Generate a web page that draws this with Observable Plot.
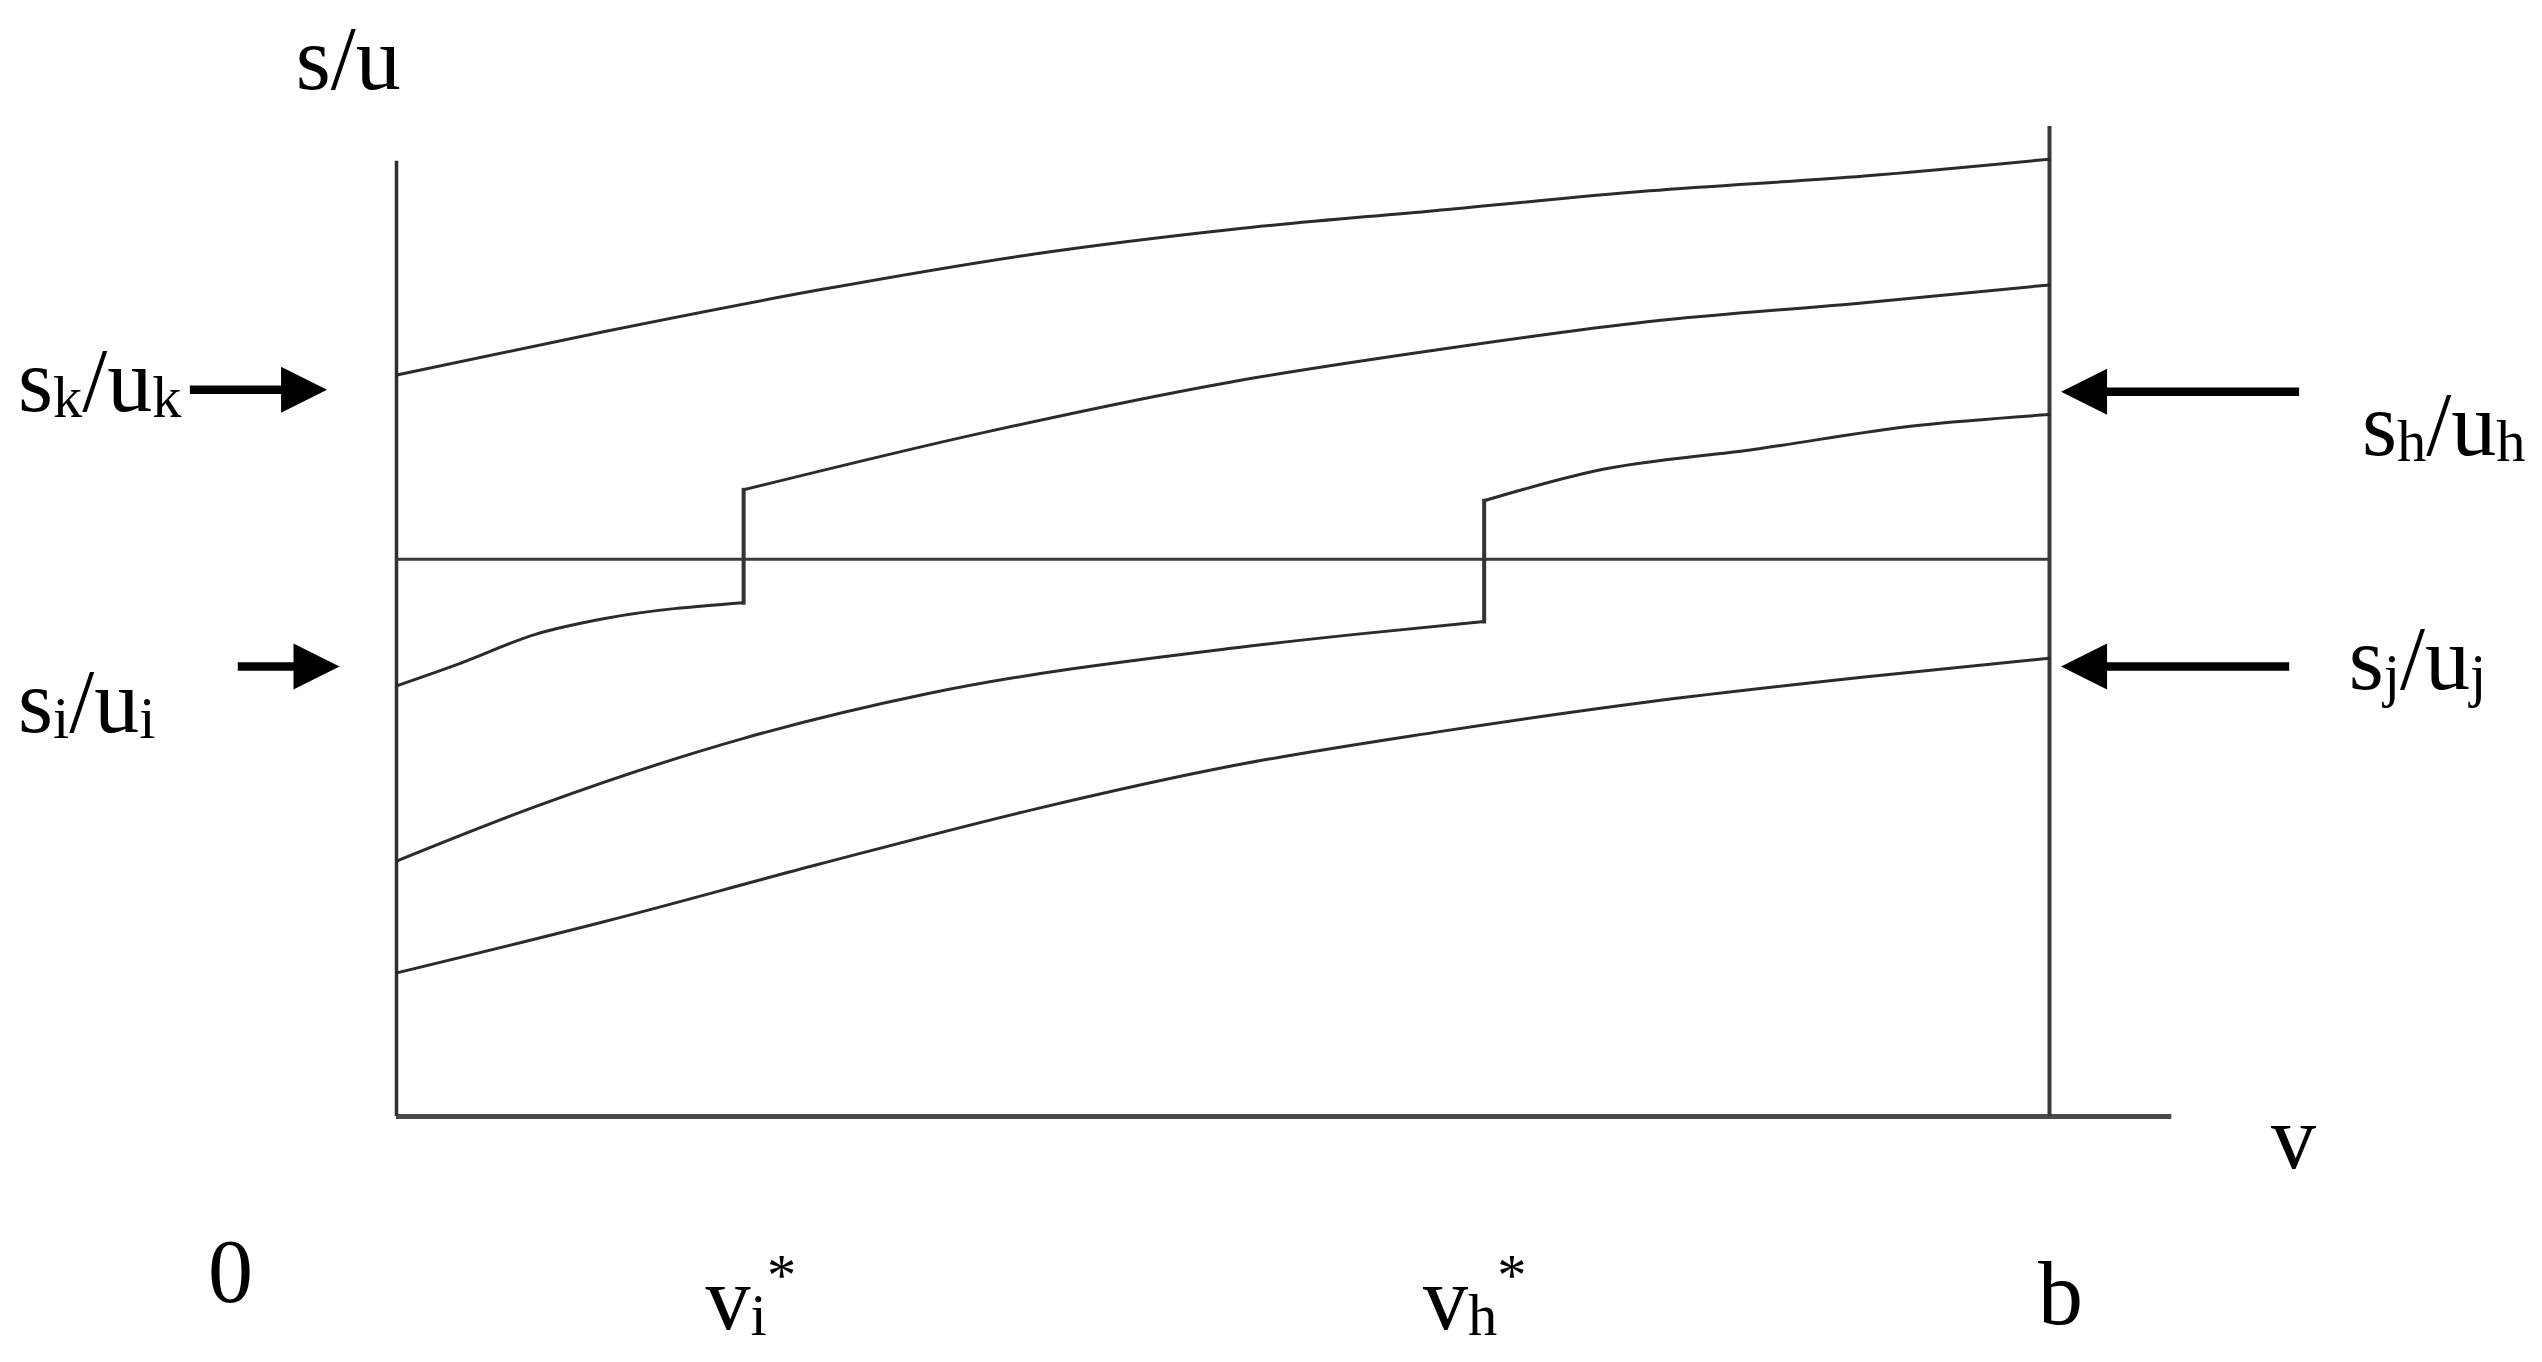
<!DOCTYPE html>
<html>
<head>
<meta charset="utf-8">
<script src="https://cdn.jsdelivr.net/npm/d3@7"></script>
<script src="https://cdn.jsdelivr.net/npm/@observablehq/plot@0.6"></script>
<style>
  html, body { margin: 0; padding: 0; background: #ffffff; }
  #chart { width: 2542px; height: 1362px; }
</style>
</head>
<body>
<div id="chart"></div>
<script>
// ---- Data (v on horizontal axis: 0 = origin, 100 = b; s/u on vertical axis) ----
const vIstar = 21.0;   // v_i*
const vHstar = 65.8;   // v_h*
const vB = 100;        // b
const vAxisEnd = 107.4;
const suTop = 96.5;    // top of s/u axis
const suRightTop = 100;
const threshold = 56.3; // horizontal reference level

// curve starting highest (reaches s_k/u_k level)
const curveK = [[0,74.9],[12.6,79.3],[25.6,83.5],[38.5,87.1],[50.5,89.6],[62.8,91.5],[75.8,93.5],[88.8,95.0],[100,96.7]];
// curve jumping at v_i*: before and after the jump
const curveIlow  = [[0,43.5],[3.9,45.8],[8.4,48.7],[12.6,50.3],[21.0,51.9]];
const curveIhigh = [[21.0,63.3],[35.3,69.0],[50.5,74.2],[62.8,77.4],[75.8,80.3],[88.8,82.2],[100,84.0]];
// curve jumping at v_h*: before and after the jump
const curveHlow  = [[0,25.8],[8.4,31.3],[21.0,38.2],[32.1,42.7],[50.5,47.3],[58.0,48.7],[65.8,50.0]];
const curveHhigh = [[65.8,62.2],[72.5,65.2],[82.2,67.4],[92.0,69.8],[100,70.9]];
// lowest curve (reaches s_j/u_j level)
const curveJ = [[0,14.5],[12.6,19.7],[25.6,25.5],[38.5,31.0],[50.5,35.4],[62.8,38.8],[75.8,41.9],[88.8,44.4],[100,46.3]];

// annotation arrows: tail v, tip v, level
const arrowRightTail = [-12.5, -9.6];
const arrowRightTip  = [-4.2, -3.45];
const arrowRightLevel = [73.4, 45.45];
const arrowLeftTail = [115.1, 114.5];
const arrowLeftTip  = [100.7, 100.7];
const arrowLeftLevel = [73.2, 45.45];

// text labels ("_" = subscript, "^" = superscript)
const labelText = ["s/u", "s_k/u_k", "s_i/u_i", "s_h/u_h", "s_j/u_j", "v", "0", "v_i^*", "v_h^*", "b"];
const labelV    = [-6.1, -22.9, -22.9, 118.9, 118.1, 113.4, -11.4, 18.7, 62.1, 99.3];
const labelS    = [103.8, 71.3, 38.8, 66.8, 43.2, -5.2, -18.7, -21.5, -21.5, -21.0];

// ---- Build tables ----
const pieces = [["K", curveK], ["I1", curveIlow], ["I2", curveIhigh], ["H1", curveHlow], ["H2", curveHhigh], ["J", curveJ]];
const curves = pieces.flatMap(([name, pts]) => pts.map(([v, s]) => ({name, v, s})));
const jumps = [[curveIlow, curveIhigh], [curveHlow, curveHhigh]].map(([lo, hi]) => {
  const a = lo[lo.length - 1], b = hi[0];
  return {x1: a[0], y1: a[1], x2: b[0], y2: b[1]};
});
const rightArrows = arrowRightTail.map((t, i) => ({x1: t, x2: arrowRightTip[i], y: arrowRightLevel[i]}));
const leftArrows = arrowLeftTail.map((t, i) => ({x1: t, x2: arrowLeftTip[i], y: arrowLeftLevel[i]}));
const labels = labelText.map((t, i) => ({t, v: labelV[i], s: labelS[i]}));

const triRight = {draw(ctx, size) { const r = Math.sqrt(size / Math.PI); ctx.moveTo(0, 0); ctx.lineTo(-2 * r, -r); ctx.lineTo(-2 * r, r); ctx.closePath(); }};
const triLeft  = {draw(ctx, size) { const r = Math.sqrt(size / Math.PI); ctx.moveTo(0, 0); ctx.lineTo(2 * r, -r); ctx.lineTo(2 * r, r); ctx.closePath(); }};

const font = "'Liberation Serif', 'Times New Roman', Times, serif";

const svg = Plot.plot({
  width: 2542,
  height: 1362,
  marginLeft: 396,
  marginRight: 493,
  marginTop: 126,
  marginBottom: 246,
  x: {domain: [0, 100], axis: null},
  y: {domain: [0, 100], axis: null},
  style: {background: "#ffffff", fontFamily: font},
  marks: [
    // axes and reference lines
    Plot.ruleY([0], {x1: 0, x2: vAxisEnd, stroke: "#4a4a4a", strokeWidth: 5}),
    Plot.ruleX([0], {y1: 0, y2: suTop, stroke: "#2f2f2f", strokeWidth: 3.5}),
    Plot.ruleX([vB], {y1: 0, y2: suRightTop, stroke: "#3a3a3a", strokeWidth: 4}),
    Plot.ruleY([threshold], {x1: 0, x2: vB, stroke: "#3a3a3a", strokeWidth: 3}),
    // curves
    Plot.line(curves, {x: "v", y: "s", z: "name", stroke: "#2b2b2b", strokeWidth: 3, curve: "monotone-x"}),
    Plot.link(jumps, {x1: "x1", y1: "y1", x2: "x2", y2: "y2", stroke: "#333", strokeWidth: 4, strokeLinecap: "square"}),
    // arrows
    Plot.arrow(rightArrows, {x1: "x1", x2: "x2", y1: "y", y2: "y", stroke: "#000", strokeWidth: 8.5, headLength: 0, insetEnd: 36, strokeLinecap: "butt"}),
    Plot.arrow(leftArrows, {x1: "x1", x2: "x2", y1: "y", y2: "y", stroke: "#000", strokeWidth: 8.5, headLength: 0, insetEnd: 36, strokeLinecap: "butt"}),
    Plot.dot(rightArrows, {x: "x2", y: "y", r: 23, symbol: triRight, fill: "#000", stroke: null}),
    Plot.dot(leftArrows, {x: "x2", y: "y", r: 23, symbol: triLeft, fill: "#000", stroke: null}),
    // labels
    Plot.text(labels, {x: "v", y: "s", text: "t", textAnchor: "start", lineAnchor: "bottom", fontSize: 90, fontFamily: font, fill: "#000"})
  ]
});

// render sub/superscripts as tspans
svg.querySelectorAll("text").forEach(t => {
  const s = t.textContent;
  if (!/[_^]/.test(s)) return;
  t.textContent = "";
  let off = 0;
  for (let i = 0; i < s.length; i++) {
    let c = s[i], kind = "n";
    if ((c === "_" || c === "^") && i + 1 < s.length) { kind = c === "_" ? "sub" : "sup"; c = s[++i]; }
    const target = kind === "sub" ? 6 : kind === "sup" ? -34 : 0;
    const ts = document.createElementNS("http://www.w3.org/2000/svg", "tspan");
    ts.setAttribute("dy", target - off);
    off = target;
    if (kind !== "n") ts.setAttribute("font-size", "0.65em");
    ts.textContent = c;
    t.appendChild(ts);
  }
});

document.getElementById("chart").appendChild(svg);
</script>
</body>
</html>
